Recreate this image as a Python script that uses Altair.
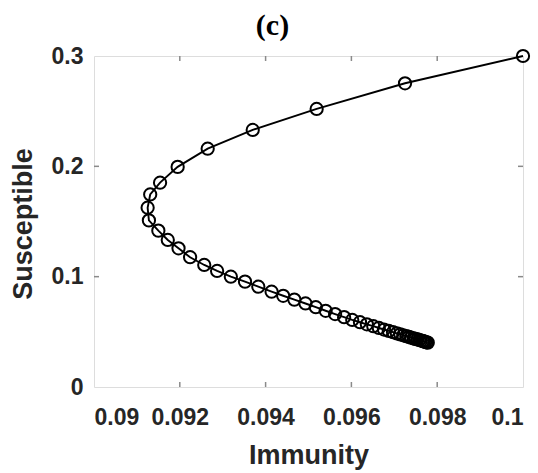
import altair as alt
import pandas as pd

# Values (trajectory in Immunity/Susceptible plane)
immunity = [0.1000, 0.09725, 0.09519, 0.09370, 0.09265, 0.09195, 0.09154, 0.09131,
            0.09125, 0.09128, 0.09150, 0.09172, 0.09197, 0.09224, 0.09257, 0.09287,
            0.09319, 0.09352, 0.09383, 0.09414, 0.09441, 0.09467, 0.09493, 0.09517,
            0.09540, 0.09562, 0.09583, 0.09602, 0.09620, 0.09636, 0.09651, 0.09664,
            0.09676, 0.09687, 0.09697, 0.09706, 0.09714, 0.09721, 0.09728, 0.09734,
            0.09739, 0.09745, 0.09749, 0.09754, 0.09758, 0.09762, 0.09766, 0.09769,
            0.09772, 0.09775, 0.09778]
susceptible = [0.3000, 0.2753, 0.2520, 0.2330, 0.2160, 0.1995, 0.1852, 0.1745,
               0.1625, 0.1510, 0.1417, 0.1333, 0.1257, 0.1176, 0.1106, 0.1052,
               0.1000, 0.0955, 0.0909, 0.0864, 0.0827, 0.0792, 0.0757, 0.0723,
               0.0691, 0.0661, 0.0633, 0.0608, 0.0587, 0.0568, 0.0551, 0.0535,
               0.0521, 0.0508, 0.0497, 0.0486, 0.0477, 0.0469, 0.0461, 0.0454,
               0.0447, 0.0441, 0.0436, 0.0431, 0.0426, 0.0421, 0.0417, 0.0413,
               0.0409, 0.0405, 0.0402]

x_ticks = [0.09, 0.092, 0.094, 0.096, 0.098, 0.1]
y_ticks = [0, 0.1, 0.2, 0.3]
x_inner_ticks = [0.092, 0.094, 0.096, 0.098]
y_inner_ticks = [0.1, 0.2]

W, H = 429, 331
FRAME = "#8a8a8a"
TXT = "#262626"

df = pd.DataFrame({"Immunity": immunity, "Susceptible": susceptible,
                   "step": list(range(len(immunity)))})
xt = pd.DataFrame({"v": x_inner_ticks})
yt = pd.DataFrame({"v": y_inner_ticks})

xscale = alt.Scale(domain=[0.09, 0.1], nice=False, zero=False)
yscale = alt.Scale(domain=[0, 0.3], nice=False, zero=False)

xaxis = alt.Axis(values=x_ticks, format=".3~f", grid=False, domain=False, ticks=False,
                 labelFont="Liberation Sans", labelFontWeight="bold", labelFontSize=23,
                 labelColor=TXT, labelPadding=19, labelBaseline="top",
                 title="Immunity", titleFont="Liberation Sans", titleFontWeight="bold",
                 titleFontSize=27, titleColor=TXT, titleBaseline="alphabetic",
                 titleY=76)
yaxis = alt.Axis(values=y_ticks, format=".1~f", grid=False, domain=False, ticks=False,
                 labelFont="Liberation Sans", labelFontWeight="bold", labelFontSize=23,
                 labelColor=TXT, labelPadding=11,
                 title="Susceptible", titleFont="Liberation Sans", titleFontWeight="bold",
                 titleFontSize=27, titleColor=TXT, titleBaseline="alphabetic",
                 titleX=-63, titleY=H / 2 + 2, titleAngle=270)

base = alt.Chart(df)
line = base.mark_line(color="black", strokeWidth=1.9).encode(
    x=alt.X("Immunity:Q", scale=xscale, axis=xaxis),
    y=alt.Y("Susceptible:Q", scale=yscale, axis=yaxis),
    order="step:Q",
)
pts = base.mark_point(shape="circle", filled=False, color="black", size=150,
                      strokeWidth=2.0, opacity=1).encode(
    x=alt.X("Immunity:Q", scale=xscale),
    y=alt.Y("Susceptible:Q", scale=yscale),
)

tick_style = dict(color=FRAME, strokeWidth=1.5)
xb = alt.Chart(xt).mark_rule(**tick_style).encode(
    x=alt.X("v:Q", scale=xscale), y=alt.value(H), y2=alt.value(H - 5))
xtop = alt.Chart(xt).mark_rule(**tick_style).encode(
    x=alt.X("v:Q", scale=xscale), y=alt.value(0), y2=alt.value(5))
yl = alt.Chart(yt).mark_rule(**tick_style).encode(
    y=alt.Y("v:Q", scale=yscale), x=alt.value(0), x2=alt.value(5))
yr = alt.Chart(yt).mark_rule(**tick_style).encode(
    y=alt.Y("v:Q", scale=yscale), x=alt.value(W), x2=alt.value(W - 5))

chart = alt.layer(xb, xtop, yl, yr, line, pts).properties(
    width=W, height=H,
    title=alt.TitleParams("(c)", font="Liberation Serif", fontWeight="bold",
                          fontSize=30, color="black", anchor="middle",
                          baseline="alphabetic", offset=18, dx=-36, dy=38),
    autosize=alt.AutoSizeParams(type="none"),
    padding={"left": 94, "top": 56, "right": 15, "bottom": 86},
).configure_view(stroke=FRAME, strokeWidth=2.2).configure(background="white")

chart.save("out.html", embed_options={"renderer": "svg", "actions": False})
